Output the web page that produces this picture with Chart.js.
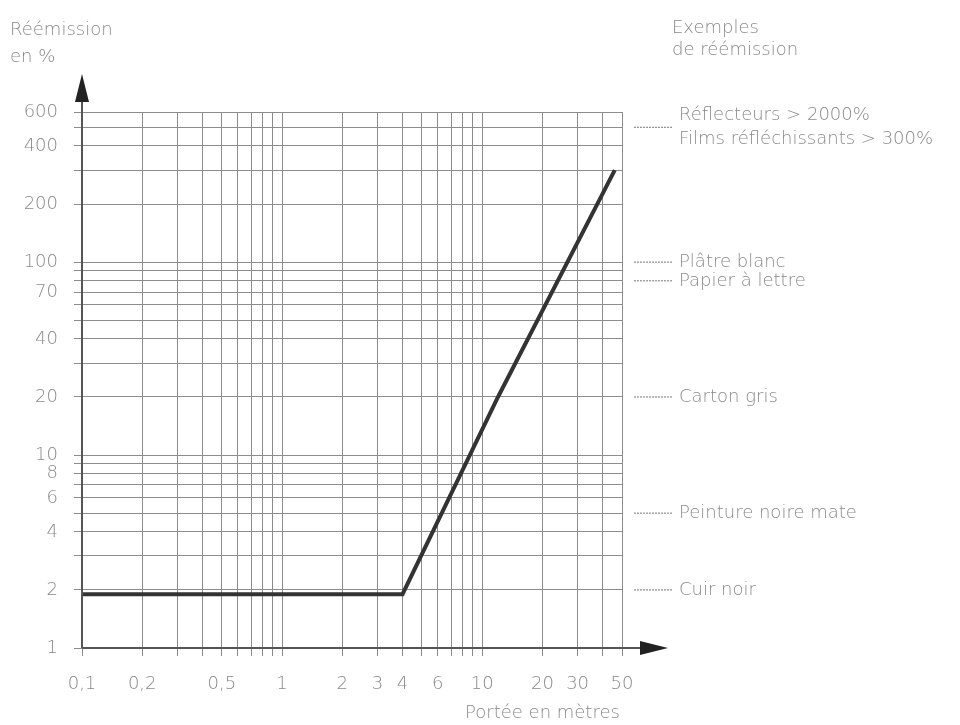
<!DOCTYPE html>
<html lang="fr">
<head>
<meta charset="UTF-8">
<title>Réémission en fonction de la portée</title>
<script src="https://cdn.jsdelivr.net/npm/chart.js@4"></script>
<style>
  html, body { margin: 0; padding: 0; background: #fff; }
  canvas { display: block; }
</style>
</head>
<body>
<canvas id="chart" width="960" height="725"></canvas>
<script>
// portée (m) -> réémission (%)
const portee = [0.1, 4, 12, 46];
const reemission = [1.9, 1.9, 20, 300];

// log grid lines and the labelled ticks
const xGrid = [0.1, 0.2, 0.3, 0.4, 0.5, 0.6, 0.7, 0.8, 0.9, 1, 2, 3, 4, 5, 6, 7, 8, 9, 10, 20, 30, 40, 50];
const xLabels = [0.1, 0.2, 0.5, 1, 2, 3, 4, 6, 10, 20, 30, 50];
const yGrid = [1, 2, 3, 4, 5, 6, 7, 8, 9, 10, 20, 30, 40, 50, 60, 70, 80, 90, 100, 200, 300, 400, 500, 600];
const yLabels = [1, 2, 4, 6, 8, 10, 20, 40, 70, 100, 200, 400, 600];

// examples shown on the right, and the level they point at
const exemples = [
    ['Réflecteurs > 2000%', 'Films réfléchissants > 300%'],
    ['Plâtre blanc'],
    ['Papier à lettre'],
    ['Carton gris'],
    ['Peinture noire mate'],
    ['Cuir noir']
];
const exempleNiveaux = [500, 100, 80, 20, 5, 2];

const textColor = '#8a8a8a';
const fontFamily = '"DejaVu Sans", "Open Sans", sans-serif';

// axes with arrows, titles and the examples column
const decor = {
    id: 'decor',
    afterDraw(chart) {
        const { ctx, chartArea: a, scales: { y } } = chart;
        ctx.save();

        ctx.strokeStyle = '#555';
        ctx.lineWidth = 2;
        ctx.beginPath();
        ctx.moveTo(a.left, a.bottom);
        ctx.lineTo(a.left, a.top - 20);
        ctx.moveTo(a.left, a.bottom);
        ctx.lineTo(a.right + 30, a.bottom);
        ctx.stroke();

        ctx.fillStyle = '#222';
        ctx.beginPath();
        ctx.moveTo(a.left, a.top - 38);
        ctx.lineTo(a.left - 7, a.top - 10);
        ctx.lineTo(a.left + 7, a.top - 10);
        ctx.closePath();
        ctx.fill();
        ctx.beginPath();
        ctx.moveTo(a.right + 46, a.bottom);
        ctx.lineTo(a.right + 18, a.bottom - 7);
        ctx.lineTo(a.right + 18, a.bottom + 7);
        ctx.closePath();
        ctx.fill();

        ctx.fillStyle = textColor;
        ctx.font = '200 18px ' + fontFamily;
        ctx.textBaseline = 'middle';
        ctx.textAlign = 'left';
        ctx.fillText('Réémission', 10, 30);
        ctx.fillText('en %', 10, 57);
        ctx.fillText('Exemples', 672, 28);
        ctx.fillText('de réémission', 672, 50);
        ctx.fillText('Portée en mètres', 465, 713);

        // leaders + labels
        ctx.strokeStyle = '#777';
        ctx.lineWidth = 1;
        ctx.setLineDash([2, 1]);
        exemples.forEach((lignes, i) => {
            const py = y.getPixelForValue(exempleNiveaux[i]);
            ctx.beginPath();
            ctx.moveTo(a.right + 12, py);
            ctx.lineTo(a.right + 50, py);
            ctx.stroke();
            const h = 24;
            const start = py - (lignes.length - 1) * h / 2;
            lignes.forEach((t, j) => ctx.fillText(t, a.right + 57, start + j * h));
        });
        ctx.restore();
    }
};

function fmt(v) {
    return String(v).replace('.', ',');
}

const data = portee.map((p, i) => ({ x: p, y: reemission[i] }));

const ctx = document.getElementById('chart').getContext('2d');
const chart = new Chart(ctx, {
    type: 'scatter',
    data: {
        datasets: [{
            data: data,
            showLine: true,
            borderColor: '#333',
            borderWidth: 4,
            pointRadius: 0,
            tension: 0
        }]
    },
    options: {
        responsive: false,
        animation: false,
        layout: { padding: { top: 112, right: 338, bottom: 0, left: 0 } },
        plugins: { legend: { display: false }, tooltip: { enabled: false } },
        scales: {
            x: {
                type: 'logarithmic',
                min: 0.1,
                max: 50,
                afterBuildTicks: scale => { scale.ticks = xGrid.map(v => ({ value: v })); },
                afterFit: scale => { scale.height = 77; },
                border: { display: false },
                grid: { color: '#8c8c8c', lineWidth: 1, tickLength: 8 },
                ticks: {
                    autoSkip: false,
                    maxRotation: 0,
                    minRotation: 0,
                    padding: 18,
                    color: textColor,
                    font: { family: fontFamily, size: 18, weight: '200' },
                    callback: v => xLabels.includes(v) ? fmt(v) : ''
                }
            },
            y: {
                type: 'logarithmic',
                min: 1,
                max: 600,
                afterBuildTicks: scale => { scale.ticks = yGrid.map(v => ({ value: v })); },
                afterFit: scale => { scale.width = 82; },
                border: { display: false },
                grid: { color: '#8c8c8c', lineWidth: 1, tickLength: 8 },
                ticks: {
                    autoSkip: false,
                    padding: 16,
                    color: textColor,
                    font: { family: fontFamily, size: 18, weight: '200' },
                    callback: v => yLabels.includes(v) ? fmt(v) : ''
                }
            }
        }
    },
    plugins: [decor]
});
</script>
</body>
</html>
